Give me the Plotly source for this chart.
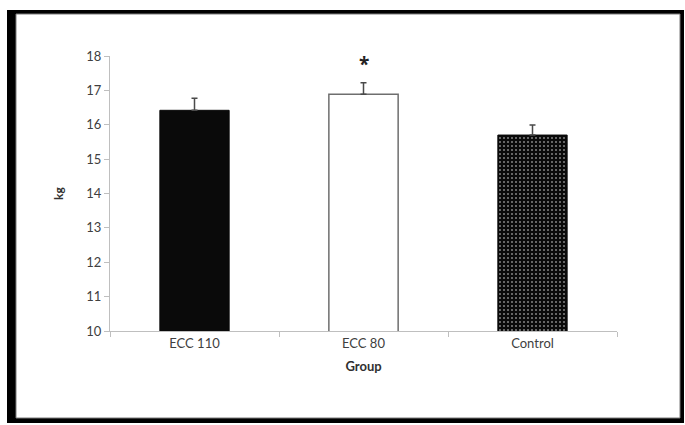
import plotly.graph_objects as go

groups = ["ECC 110", "ECC 80", "Control"]
means = [16.42, 16.89, 15.70]
errors = [0.35, 0.33, 0.29]
star_group = "ECC 80"
star_y = 17.78

L, R, T, B = 110, 68, 56, 94
W, H = 685, 425
pw, ph = W - L - R, H - T - B

def px(x):
    return (x - L) / pw

def py(y):
    return (H - B - y) / ph

FONT = "Lato"

fig = go.Figure()
fig.add_trace(go.Bar(
    x=groups, y=means,
    marker=dict(
        color=["#0a0a0a", "#ffffff", "#0a0a0a"],
        line=dict(color=["#0a0a0a", "#6e6e6e", "#0a0a0a"], width=[1, 1.5, 1]),
        pattern=dict(shape=["", "", "."], fgcolor="#8a8a8a", bgcolor="#0a0a0a",
                     size=4, solidity=0.2),
    ),
    error_y=dict(type="data", symmetric=False, array=errors,
                 arrayminus=[0, 0, 0], color="#4a4a4a", thickness=1.5, width=3),
    width=0.41,
))

# outer frame
fig.add_shape(type="rect", xref="paper", yref="paper",
              x0=px(7), x1=px(684), y0=py(10), y1=py(423),
              fillcolor="#000000", line=dict(width=0), layer="below")
fig.add_shape(type="rect", xref="paper", yref="paper",
              x0=px(16), x1=px(680), y0=py(14), y1=py(418),
              fillcolor="#ffffff", line=dict(color="#7a7a7a", width=1), layer="below")

fig.add_annotation(x=star_group, y=star_y, text="<b>*</b>", showarrow=False,
                   font=dict(size=19, color="#222222", family="Open Sans"))

fig.update_layout(
    width=W, height=H,
    margin=dict(l=L, r=R, t=T, b=B),
    paper_bgcolor="#ffffff", plot_bgcolor="rgba(0,0,0,0)",
    showlegend=False,
    font=dict(family=FONT, color="#404040", size=12),
)
fig.update_yaxes(range=[10, 18], dtick=1, showgrid=False, zeroline=False,
                 showline=True, linecolor="#bfbfbf", linewidth=1,
                 ticks="outside", ticklen=5, tickcolor="#bfbfbf",
                 tickfont=dict(size=13, color="#404040"),
                 title=dict(text="<b>kg</b>", font=dict(size=12, color="#303030"), standoff=20))
fig.update_xaxes(showgrid=False, showline=True, linecolor="#bfbfbf", linewidth=1,
                 ticks="outside", ticklen=5, tickcolor="#bfbfbf", tickson="boundaries",
                 tickfont=dict(size=13, color="#404040"),
                 title=dict(text="<b>Group</b>", font=dict(size=13, color="#303030"), standoff=12))

fig.write_html("out.html")
